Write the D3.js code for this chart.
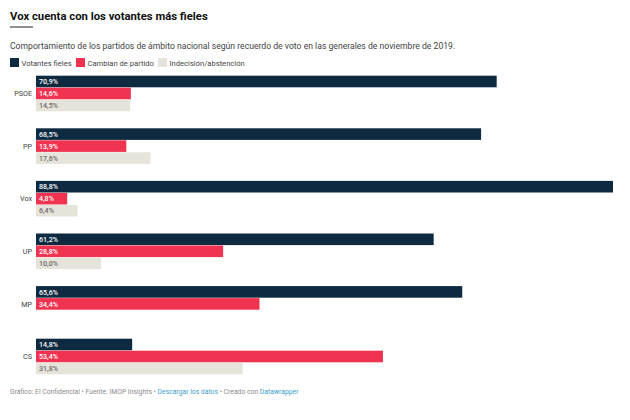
<!DOCTYPE html>
<html><head><meta charset="utf-8">
<script src="https://cdn.jsdelivr.net/npm/d3@7"></script>
<style>
body{margin:0;background:#fff;font-family:Roboto,"Noto Sans",sans-serif;}
svg{display:block}
</style></head><body>
<svg id="c" width="630" height="420"></svg>
<script>
const categories = ["PSOE","PP","Vox","UP","MP","CS"];
const seriesNames = ["Votantes fieles","Cambian de partido","Indecisión/abstención"];
const fieles = [70.9,68.5,88.8,61.2,65.6,14.8];
const cambian = [14.6,13.9,4.8,28.8,34.4,53.4];
const indecision = [14.5,17.6,6.4,10.0,null,31.8];
const colors = ["#0e2a40","#f03350","#e6e3da"];
const labelColors = ["#ffffff","#ffffff","#6b6b6b"];

const svg = d3.select("#c");
svg.append("text").attr("x",10).attr("y",20).attr("font-size",11.3).attr("font-weight",700).attr("fill","#111")
  .text("Vox cuenta con los votantes más fieles");
svg.append("rect").attr("x",10).attr("y",26.5).attr("width",23).attr("height",1).attr("fill","#222");
svg.append("text").attr("x",10).attr("y",49).attr("font-size",8.65).attr("fill","#444")
  .text("Comportamiento de los partidos de ámbito nacional según recuerdo de voto en las generales de noviembre de 2019.");

// legend
const legX = [10,76,158];
seriesNames.forEach((n,i)=>{
  svg.append("rect").attr("x",legX[i]).attr("y",58).attr("width",9).attr("height",9).attr("fill",colors[i]);
  svg.append("text").attr("x",legX[i]+11.5).attr("y",65.5).attr("font-size",7.6).attr("fill","#444").text(n);
});

const x = d3.scaleLinear().domain([0,88.8]).range([36,613]);
const y = d3.scaleBand().domain(categories).range([75.7,391.3]).paddingInner(0).paddingOuter(0);
const seriesVals = [fieles,cambian,indecision];
const barH = 12;
const g = svg.append("g");
categories.forEach((c,ci)=>{
  const y0 = y(c);
  g.append("text").attr("x",32).attr("y",y0+barH*1.5+2.5).attr("text-anchor","end")
    .attr("font-size",7.2).attr("fill","#444").text(c);
  seriesVals.forEach((arr,si)=>{
    const v = arr[ci];
    if(v==null) return;
    const yy = y0+si*barH;
    g.append("rect").attr("x",x(0)).attr("y",yy).attr("width",x(v)-x(0)).attr("height",barH-0.4).attr("fill",colors[si]);
    g.append("text").attr("x",x(0)+3).attr("y",yy+8.4).attr("font-size",7.1).attr("font-weight",500)
      .attr("fill",labelColors[si]).text(d3.format(".1f")(v).replace(".",",")+"%");
  });
});

// footer
const f = svg.append("text").attr("x",10).attr("y",394).attr("font-size",6.8).attr("fill","#8a8a8a");
f.append("tspan").text("Gráfico: El Confidencial • Fuente: IMOP Insights • ");
f.append("tspan").attr("fill","#3ba0c8").text("Descargar los datos");
f.append("tspan").text(" • Creado con ");
f.append("tspan").attr("fill","#3ba0c8").text("Datawrapper");
</script></body></html>
